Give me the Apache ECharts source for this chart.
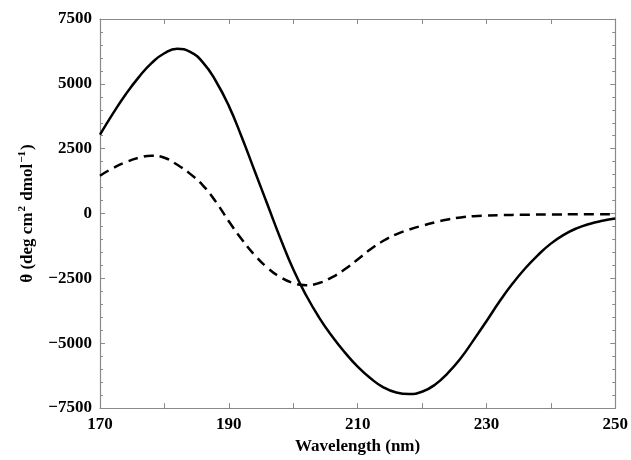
<!DOCTYPE html>
<html>
<head>
<meta charset="utf-8">
<script src="https://cdn.jsdelivr.net/npm/echarts@6/dist/echarts.min.js"></script>
<style>html,body{margin:0;padding:0;background:#fff}#c{width:631px;height:460px}</style>
</head>
<body>
<div id="c"></div>
<script>
const wavelengthSolid = [170,172,174,176,178,180,182,184,186,188,190,192,194,196,198,200,202,204,206,208,210,212,214,216,218,220,222,224,226,228,230,232,234,236,238,240,242,244,246,248,250];
const thetaSolid = [3040,3850,4600,5250,5800,6180,6350,6230,5820,5100,4150,2950,1650,350,-950,-2150,-3150,-4000,-4720,-5350,-5900,-6350,-6700,-6900,-6960,-6870,-6600,-6150,-5580,-4880,-4150,-3400,-2720,-2120,-1600,-1160,-820,-570,-400,-280,-190];
const wavelengthDashed = [170,172,174,176,178,180,182,184,186,188,190,192,194,196,198,200,202,204,206,208,210,212,214,216,218,220,222,224,226,228,230,232,236,240,245,250];
const thetaDashed = [1460,1750,1980,2150,2230,2150,1880,1530,1080,450,-300,-990,-1600,-2090,-2450,-2680,-2760,-2680,-2460,-2150,-1770,-1380,-1050,-800,-620,-470,-340,-230,-150,-100,-75,-60,-45,-35,-30,-30];
const xTicks = [170,190,210,230,250];
const yTicks = [-7500,-5000,-2500,0,2500,5000,7500];

const font = 'Liberation Serif';
const axisGray = '#8a8a8a';
const chart = echarts.init(document.getElementById('c'));
const zip = (xs, ys) => xs.map((x, i) => [x, ys[i]]);
const frameLine = {show: true, onZero: false, lineStyle: {color: axisGray, width: 1.2}};
chart.setOption({
  animation: false,
  grid: {left: 100, right: 14, top: 19, bottom: 45},
  xAxis: [{
    type: 'value', min: 170, max: 250, interval: 10, position: 'bottom',
    axisLine: frameLine,
    axisTick: {inside: true, length: 5, lineStyle: {color: axisGray}},
    splitLine: {show: false},
    axisLabel: {
      margin: 8, color: '#000', fontFamily: font, fontWeight: 'bold', fontSize: 17,
      formatter: v => xTicks.includes(v) ? String(v) : ''
    },
    name: 'Wavelength (nm)', nameLocation: 'middle', nameGap: 27,
    nameTextStyle: {color: '#000', fontFamily: font, fontWeight: 'bold', fontSize: 17}
  }, {
    type: 'value', min: 170, max: 250, interval: 10, position: 'top',
    axisLine: frameLine,
    axisTick: {inside: true, length: 5, lineStyle: {color: axisGray}},
    splitLine: {show: false}, axisLabel: {show: false}
  }],
  yAxis: [{
    type: 'value', min: -7500, max: 7500, interval: 2500, position: 'left',
    axisLine: frameLine,
    axisTick: {inside: true, length: 5, lineStyle: {color: axisGray}},
    minorTick: {show: true, splitNumber: 5, length: 3, lineStyle: {color: axisGray}},
    splitLine: {show: false},
    axisLabel: {
      margin: 8, color: '#000', fontFamily: font, fontWeight: 'bold', fontSize: 17,
      formatter: v => yTicks.includes(v) ? String(v).replace('-', '\u2212') : ''
    },
    name: '{a|\u03b8 (deg cm}{s|2}{a| dmol}{s|\u22121}{a|)}',
    nameLocation: 'middle', nameGap: 62, nameRotate: 90,
    nameTextStyle: {
      color: '#000', fontFamily: font, fontWeight: 'bold', fontSize: 17,
      rich: {
        a: {color: '#000', fontFamily: font, fontWeight: 'bold', fontSize: 17},
        s: {color: '#000', fontFamily: font, fontWeight: 'bold', fontSize: 11, padding: [0, 1, 10, 1]}
      }
    }
  }, {
    type: 'value', min: -7500, max: 7500, interval: 2500, position: 'right',
    axisLine: frameLine,
    axisTick: {inside: true, length: 5, lineStyle: {color: axisGray}},
    minorTick: {show: true, splitNumber: 5, length: 3, lineStyle: {color: axisGray}},
    splitLine: {show: false}, axisLabel: {show: false}
  }],
  series: [{
    type: 'line', data: zip(wavelengthSolid, thetaSolid), smooth: 0.5, showSymbol: false,
    lineStyle: {color: '#000', width: 2.5}
  }, {
    type: 'line', data: zip(wavelengthDashed, thetaDashed), smooth: 0.5, showSymbol: false,
    lineStyle: {color: '#000', width: 2.5, type: [10, 6]}
  }]
});
</script>
</body>
</html>
